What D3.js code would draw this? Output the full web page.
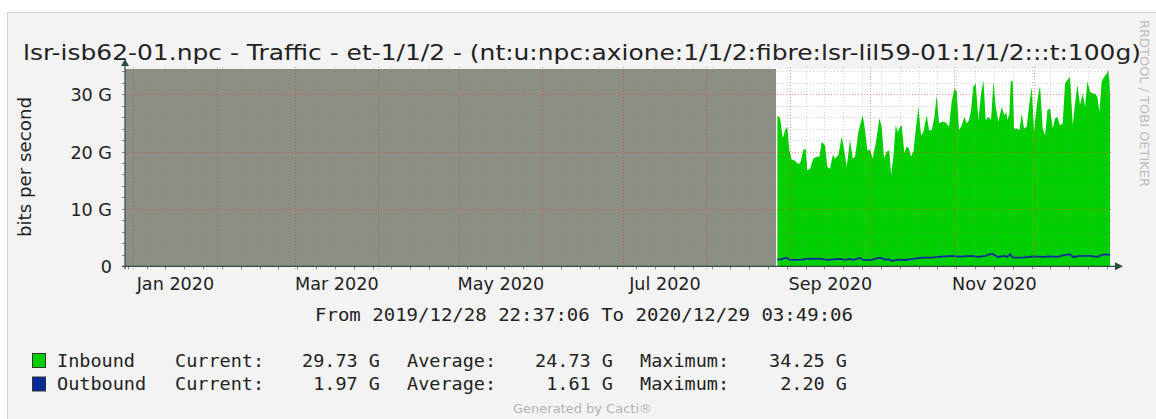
<!DOCTYPE html>
<html>
<head>
<meta charset="utf-8">
<script src="https://cdn.jsdelivr.net/npm/d3@7"></script>
<style>
  body { margin: 0; background: #fff; }
  svg text { font-family: "DejaVu Sans", sans-serif; fill: #222; }
  svg text.mono { font-family: "DejaVu Sans Mono", monospace; }
</style>
</head>
<body>
<svg id="chart" width="1156" height="419"></svg>
<script>
// ---- data -------------------------------------------------------------
var title      = "lsr-isb62-01.npc - Traffic - et-1/1/2 - (nt:u:npc:axione:1/1/2:fibre:lsr-lil59-01:1/1/2:::t:100g)";
var rangeStart = "2019-12-28T22:37:06Z";
var rangeEnd   = "2020-12-29T03:49:06Z";
var knownFrom  = "2020-08-27T00:00:00Z";   // everything before this is unknown (grey)
var monthLabels = ["2020-01-01", "2020-03-01", "2020-05-01", "2020-07-01", "2020-09-01", "2020-11-01"];
var yTicks = [0, 10, 20, 30];               // G bits/s

// [days after knownFrom, Gbit/s]
var inbound = [
  [0.5,26.3],[1.5,25.8],[2.5,22.3],[3.35,23.7],[4.2,24.3],[4.96,20.2],[5.8,18.6],[7.06,18.4],[8.3,17.8],[9.17,18.2],
  [10.16,20.3],[11.03,20.5],[11.65,16.7],[12.64,17.0],[13.88,18.8],[15.12,19.1],[16.11,19.1],[16.98,21.7],[18.22,21.1],[19.09,17.3],
  [20.08,17.0],[21.07,19.4],[21.94,18.8],[23.17,19.4],[24.41,22.6],[25.28,20.5],[26.27,17.3],[27.51,22.0],[28.5,18.8],[29.37,19.1],
  [30.61,23.4],[31.23,24.6],[32.22,26.3],[33.09,23.7],[33.96,20.2],[34.95,20.3],[35.94,18.8],[37.18,21.7],[38.42,25.8],[39.29,24.3],
  [40.15,18.8],[41.14,20.0],[42.14,20.2],
  [42.76,15.9],[43.62,19.1],[44.49,24.6],[45.23,23.4],[46.1,24.3],[46.72,24.6],[47.71,19.7],[48.58,20.9],[49.45,20.5],[50.19,19.1],
  [51.06,20.0],[51.93,23.7],[52.92,27.8],[53.91,22.8],[54.78,23.4],[56.02,26.3],[56.88,23.7],[57.88,23.7],[58.87,26.0],[59.73,29.8],
  [60.6,24.9],[61.59,25.2],[62.58,25.2],[63.45,24.9],[64.32,24.3],[65.31,28.7],[66.3,31.0],[67.17,30.4],[68.04,23.7],[69.03,24.6],
  [70.02,26.0],[70.89,24.9],[71.76,25.5],[72.5,27.2],[73.37,31.3],[74.23,31.9],[75.23,25.5],[76.22,30.1],[77.09,32.4],[77.95,25.5],
  [78.95,26.0],[79.94,25.5],[80.81,32.2],[81.67,27.8],[82.66,25.2],[83.9,27.8],[84.89,26.3],
  [85.6,26.9],[86.01,25.5],[86.75,26.6],[87.25,32.2],[87.99,32.3],[88.49,24.0],[89.48,24.0],[90.47,23.7],[91.34,26.6],[92.2,24.0],
  [93.2,24.3],[94.19,28.4],[95.06,31.2],[95.92,23.4],[96.67,26.9],[97.53,30.1],[98.15,31.4],[99.14,24.0],[100.01,22.8],[100.88,27.2],
  [101.87,27.5],[102.86,24.0],[103.73,25.8],[104.6,26.0],[105.59,24.6],[106.58,24.9],[107.45,31.9],[108.31,32.4],[109.3,33.0],[110.3,24.6],
  [111.16,28.4],[112.03,31.6],[113.02,28.1],[114.01,30.1],[114.88,27.8],[115.75,32.2],[116.74,30.4],[117.73,30.1],[118.6,30.1],[119.47,29.5],
  [120.21,26.9],[121.08,32.2],[121.95,33.0],[122.94,33.6],[123.5,34.25],[123.95,32.4],[124.16,29.73]
];
var outbound = [
  [0.4,1.22],[1.9,1.22],[3.7,1.51],[5.2,1.12],[10.0,1.16],[10.8,1.28],[16.4,1.34],[19.0,1.12],[23.8,1.28],[25.6,1.12],
  [27.5,1.28],[28.6,1.12],[31.2,1.45],[32.4,1.12],[35.0,1.08],[37.5,1.40],[38.7,1.51],[40.5,1.16],[42.0,1.22],[43.1,0.95],
  [45.4,1.16],[48.0,1.10],[51.7,1.34],[54.3,1.51],[58.0,1.51],[60.2,1.63],[65.4,1.80],[67.7,1.69],[72.9,1.80],[75.1,1.63],
  [77.7,1.80],[80.3,2.20],[82.5,1.63],[84.8,1.80],[85.9,1.63],[87.0,2.09],[88.1,1.51],[91.8,1.51],[95.6,1.74],[99.3,1.63],
  [101.9,1.74],[104.5,1.63],[106.7,1.92],[109.3,2.09],[110.4,1.63],[113.0,1.80],[116.8,1.80],[119.4,1.63],[121.6,2.03],[123.1,2.09],
  [124.16,1.97]
];

var legendRows = [
  { name: "Inbound",  color: "#00cf00", current: "29.73 G", average: "24.73 G", maximum: "34.25 G" },
  { name: "Outbound", color: "#002a97", current: "1.97 G",  average: "1.61 G",  maximum: "2.20 G" }
];

// ---- chart -------------------------------------------------------------
var svg = d3.select("#chart");
var day = 864e5;
var t0 = new Date(rangeStart), t1 = new Date(rangeEnd), tk = new Date(knownFrom);
var when = function (d) { return new Date(+tk + d[0] * day); };

var pL = 125, pR = 1110, pT = 69, pB = 266.3;
var x = d3.scaleUtc().domain([t0, t1]).range([pL, pR]);
var y = d3.scaleLinear().domain([0, 34.38]).range([pB, pT]);

// background panel
svg.append("rect").attr("x", 7.5).attr("y", 12.5).attr("width", 1160).attr("height", 420)
   .attr("fill", "#f3f3f3").attr("stroke", "#d2d2d2");
svg.append("rect").attr("x", pL).attr("y", pT).attr("width", pR - pL).attr("height", pB - pT)
   .attr("fill", "#fff");

// unknown period
svg.append("rect")
   .attr("x", x(t0)).attr("y", pT)
   .attr("width", x(tk) - x(t0)).attr("height", pB - pT)
   .attr("fill", "#8d8e84");

// inbound area
svg.append("path")
   .datum(inbound)
   .attr("fill", "#00cf00")
   .attr("d", d3.area()
       .x(function (d) { return x(when(d)); })
       .y0(y(0))
       .y1(function (d) { return y(d[1]); }));

// outbound line
svg.append("path")
   .datum(outbound)
   .attr("fill", "none")
   .attr("stroke", "#002a97")
   .attr("stroke-width", 1.8)
   .attr("d", d3.line()
       .x(function (d) { return x(when(d)); })
       .y(function (d) { return y(d[1]); }));

// grid, drawn over the data like rrdtool does
var grid = svg.append("g");
var minorY = d3.range(2, 34.4, 2).filter(function (v) { return v % 10 !== 0; });
var majorY = yTicks.filter(function (v) { return v > 0; });
var weeks  = d3.utcMonday.range(t0, t1);
var months = d3.utcMonth.range(t0, t1);
var px = function (v) { return Math.round(v) + 0.5; };

grid.selectAll(".hmin").data(minorY).enter().append("line")
    .attr("x1", pL - 2).attr("x2", pR + 3)
    .attr("y1", function (d) { return px(y(d)); })
    .attr("y2", function (d) { return px(y(d)); })
    .attr("stroke", "rgba(140,140,140,0.4)").attr("stroke-dasharray", "1,2");
grid.selectAll(".vmin").data(weeks).enter().append("line")
    .attr("y1", pT - 2).attr("y2", pB + 2)
    .attr("x1", function (d) { return px(x(d)); })
    .attr("x2", function (d) { return px(x(d)); })
    .attr("stroke", "rgba(140,140,140,0.4)").attr("stroke-dasharray", "1,2");
grid.selectAll(".hmaj").data(majorY).enter().append("line")
    .attr("x1", pL - 2).attr("x2", pR + 3)
    .attr("y1", function (d) { return px(y(d)); })
    .attr("y2", function (d) { return px(y(d)); })
    .attr("stroke", "rgba(255,40,40,0.5)").attr("stroke-dasharray", "1,2");
grid.selectAll(".vmaj").data(months).enter().append("line")
    .attr("y1", pT - 2).attr("y2", pB + 4)
    .attr("x1", function (d) { return px(x(d)); })
    .attr("x2", function (d) { return px(x(d)); })
    .attr("stroke", "rgba(255,40,40,0.5)").attr("stroke-dasharray", "1,2");

// small ticks on the axes
grid.selectAll(".ytk").data(minorY.concat(majorY)).enter().append("line")
    .attr("x1", pL - 3).attr("x2", pL)
    .attr("y1", function (d) { return px(y(d)); })
    .attr("y2", function (d) { return px(y(d)); })
    .attr("stroke", "#8a8a8a");
grid.selectAll(".xtk").data(weeks).enter().append("line")
    .attr("y1", pB).attr("y2", pB + 3)
    .attr("x1", function (d) { return px(x(d)); })
    .attr("x2", function (d) { return px(x(d)); })
    .attr("stroke", "#8a8a8a");

// axes lines and arrows
var axisCol = "#2c4d43";
svg.append("line").attr("x1", pL - 3).attr("x2", pR + 7).attr("y1", pB).attr("y2", pB)
   .attr("stroke", axisCol).attr("stroke-width", 1.2);
svg.append("line").attr("x1", pL).attr("x2", pL).attr("y1", pB + 3).attr("y2", pT - 4)
   .attr("stroke", axisCol).attr("stroke-width", 1.2);
svg.append("path").attr("fill", axisCol)
   .attr("d", "M" + (pR + 5) + "," + (pB - 4) + "L" + (pR + 13) + "," + pB + "L" + (pR + 5) + "," + (pB + 4) + "Z");
svg.append("path").attr("fill", axisCol)
   .attr("d", "M" + (pL - 4) + "," + (pT - 3) + "L" + pL + "," + (pT - 10) + "L" + (pL + 4) + "," + (pT - 3) + "Z");

// y axis labels
var yAxis = svg.append("g").attr("transform", "translate(" + pL + ",0)")
   .call(d3.axisLeft(y).tickValues(yTicks).tickSize(0).tickPadding(13)
         .tickFormat(function (d) { return d === 0 ? "0" : d + " G"; }));
yAxis.select(".domain").remove();
yAxis.selectAll("text").attr("dy", "0.37em").style("font-size", "17.6px")
     .style("font-family", "'DejaVu Sans', sans-serif").attr("fill", "#222");

// x axis labels, centred on each labelled month
var mids = monthLabels.map(function (m) {
  var a = new Date(m + "T00:00:00Z");
  return new Date((+a + +d3.utcMonth.offset(a, 1)) / 2);
});
var xAxis = svg.append("g").attr("transform", "translate(0," + pB + ")")
   .call(d3.axisBottom(x).tickValues(mids).tickSize(0).tickPadding(11.5)
         .tickFormat(d3.utcFormat("%b %Y")));
xAxis.select(".domain").remove();
xAxis.selectAll("text").style("font-size", "17.6px")
     .style("font-family", "'DejaVu Sans', sans-serif").attr("fill", "#222");

// titles
svg.append("text").attr("x", 23).attr("y", 60).style("font-size", "22px")
   .attr("textLength", 1118).attr("lengthAdjust", "spacingAndGlyphs").text(title);
svg.append("text").attr("transform", "translate(31,167) rotate(-90)").attr("text-anchor", "middle")
   .style("font-size", "17.6px").attr("textLength", 140).attr("lengthAdjust", "spacingAndGlyphs")
   .text("bits per second");
svg.append("text").attr("transform", "translate(1140,20) rotate(90)")
   .style("font-size", "12px").style("fill", "#bdbdbd")
   .attr("textLength", 167).attr("lengthAdjust", "spacingAndGlyphs")
   .text("RRDTOOL / TOBI OETIKER");

var fmt = d3.utcFormat("%Y/%m/%d %H:%M:%S");
svg.append("text").attr("class", "mono").attr("x", 315).attr("y", 321).style("font-size", "18.5px")
   .attr("textLength", 538).attr("lengthAdjust", "spacingAndGlyphs")
   .text("From " + fmt(t0) + " To " + fmt(t1));

// legend
var rows = svg.selectAll(".legend").data(legendRows).enter().append("g")
   .attr("transform", function (d, i) { return "translate(0," + (366.5 + i * 23.5) + ")"; });
rows.append("rect").attr("x", 32.5).attr("y", -13).attr("width", 13).attr("height", 14)
    .attr("fill", function (d) { return d.color; }).attr("stroke", "#333");
var cols = [
  { x: 57,  anchor: "start", get: function (d) { return d.name; } },
  { x: 175, anchor: "start", get: function () { return "Current:"; } },
  { x: 380, anchor: "end",   get: function (d) { return d.current; } },
  { x: 407, anchor: "start", get: function () { return "Average:"; } },
  { x: 613, anchor: "end",   get: function (d) { return d.average; } },
  { x: 640, anchor: "start", get: function () { return "Maximum:"; } },
  { x: 847, anchor: "end",   get: function (d) { return d.maximum; } }
];
cols.forEach(function (c) {
  rows.append("text").attr("class", "mono").attr("x", c.x).attr("text-anchor", c.anchor)
      .style("font-size", "18.5px").text(c.get);
});

svg.append("text").attr("x", 513).attr("y", 412.5).style("font-size", "12px").style("fill", "#b3b3b3")
   .attr("textLength", 139).attr("lengthAdjust", "spacingAndGlyphs").text("Generated by Cacti®");
</script>
</body>
</html>
